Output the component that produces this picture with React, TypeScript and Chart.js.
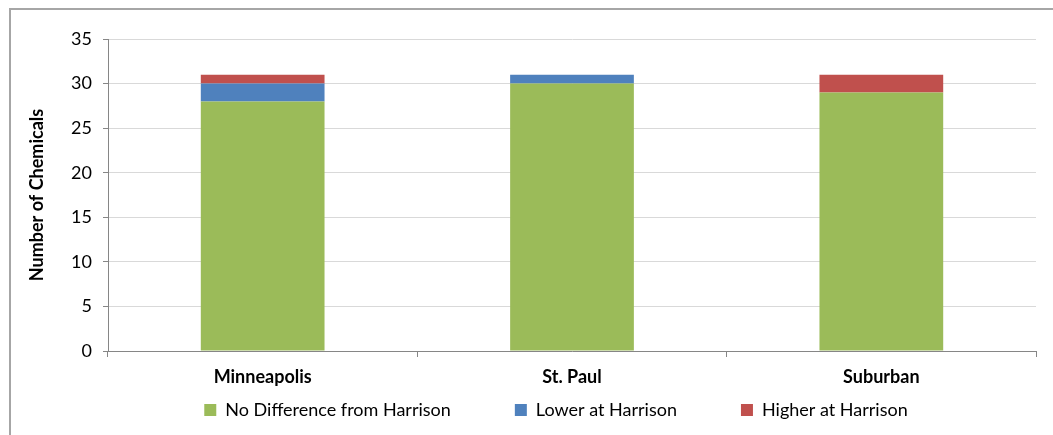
import React, { useEffect, useRef } from "react";
import { Chart, registerables } from "chart.js";

Chart.register(...registerables);

const categories = ["Minneapolis", "St. Paul", "Suburban"];
const noDifference = [28, 30, 29];
const lowerAtHarrison = [2, 1, 0];
const higherAtHarrison = [1, 0, 2];
const yTicks = [0, 5, 10, 15, 20, 25, 30, 35];

const FONT = "Lato, 'Open Sans', sans-serif";
const LEGEND_GAP = 64;

// The legend spaces its entries widely but sits in a short band under the axis:
// keep the fitted height small, then lift the box and give it room to draw.
const legendShift = {
  id: "legendShift",
  afterLayout(chart: any) {
    const lg = chart.legend;
    if (!lg) return;
    const dx = 38;
    lg.top = 401 - LEGEND_GAP;
    lg.bottom = chart.height;
    lg.height = lg.bottom - lg.top;
    lg.left += dx;
    lg.right += dx;
  },
};

export default function App() {
  const canvasRef = useRef<HTMLCanvasElement | null>(null);

  useEffect(() => {
    const canvas = canvasRef.current;
    if (!canvas) return;
    const chart = new Chart(canvas, {
      type: "bar",
      data: {
        labels: categories,
        datasets: [
          { label: "No Difference from Harrison", data: noDifference, backgroundColor: "#9BBB59" },
          { label: "Lower at Harrison", data: lowerAtHarrison, backgroundColor: "#4F81BD" },
          { label: "Higher at Harrison", data: higherAtHarrison, backgroundColor: "#C0504D" },
        ],
      },
      plugins: [legendShift],
      options: {
        animation: false,
        responsive: false,
        maintainAspectRatio: false,
        datasets: { bar: { barPercentage: 1, categoryPercentage: 0.4 } },
        layout: { padding: { top: 39, right: 17, bottom: 8, left: 0 } },
        plugins: {
          tooltip: { enabled: false },
          legend: {
            position: "bottom",
            maxHeight: 34,
            labels: {
              boxWidth: 12,
              boxHeight: 12,
              padding: LEGEND_GAP,
              color: "#000",
              font: { family: FONT, size: 18 },
            },
          },
        },
        scales: {
          x: {
            stacked: true,
            border: { color: "#868686" },
            grid: {
              offset: true,
              drawOnChartArea: false,
              tickColor: "#868686",
              tickLength: 6,
            },
            ticks: {
              color: "#000",
              padding: 9,
              font: { family: FONT, size: 18, weight: "bold" },
            },
            afterFit: (scale: any) => {
              scale.height = 42;
            },
          },
          y: {
            stacked: true,
            min: 0,
            max: 35,
            afterBuildTicks: (scale: any) => {
              scale.ticks = yTicks.map((v) => ({ value: v }));
            },
            border: { color: "#868686" },
            grid: { color: "#d9d9d9", tickColor: "#868686", tickLength: 5 },
            ticks: {
              color: "#000",
              padding: 11,
              font: { family: FONT, size: 18 },
            },
            title: {
              display: true,
              text: "Number of Chemicals",
              color: "#000",
              font: { family: FONT, size: 18, weight: "bold" },
              padding: { top: 26, bottom: 0 },
            },
            afterFit: (scale: any) => {
              scale.width = 108;
            },
          },
        },
      },
    });
    return () => chart.destroy();
  }, []);

  return (
    <div style={{ position: "fixed", left: 0, top: 0, width: 1053, height: 435, background: "#fff", overflow: "hidden" }}>
      <div
        style={{
          position: "absolute",
          left: 9,
          top: 8,
          width: 1200,
          height: 600,
          borderTop: "2px solid #a6a6a6",
          borderLeft: "2px solid #a6a6a6",
        }}
      />
      <canvas ref={canvasRef} width={1053} height={435} style={{ position: "absolute", left: 0, top: 0 }} />
    </div>
  );
}
